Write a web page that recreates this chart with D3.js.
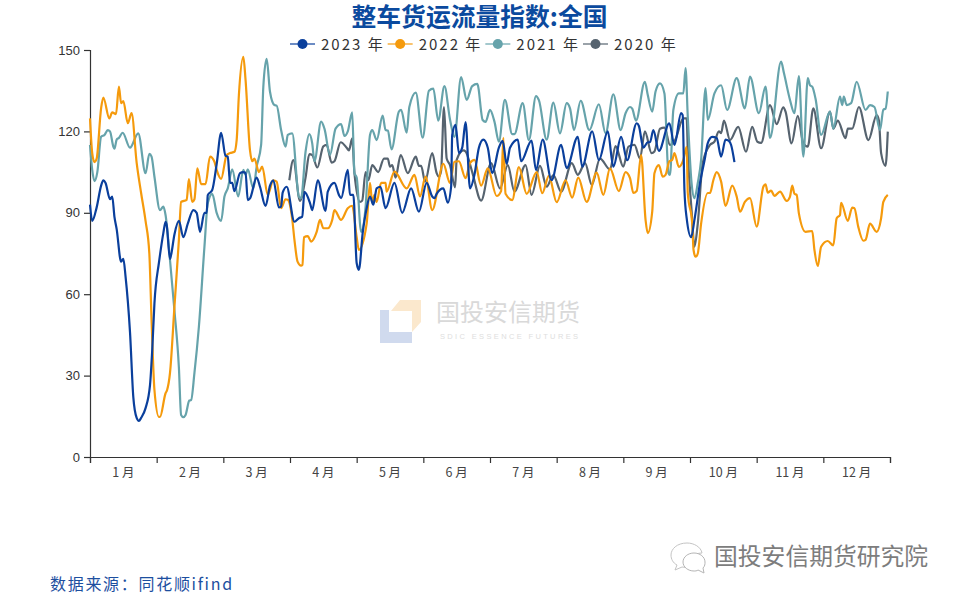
<!DOCTYPE html>
<html>
<head>
<meta charset="utf-8">
<script src="https://cdnjs.cloudflare.com/ajax/libs/d3/7.8.5/d3.min.js"></script>
<style>
html, body { margin: 0; padding: 0; background: #fff; }
svg { display: block; }
</style>
</head>
<body>
<svg id="chart" width="960" height="600"></svg>
<script>
// data: [day of a 360 day year, index]
const months = ['1 月','2 月','3 月','4 月','5 月','6 月','7 月','8 月','9 月','10 月','11 月','12 月'];
const yTicks = [0,30,60,90,120,150];
const years = ['2023 年','2022 年','2021 年','2020 年'];
const colors = ['#0a3f9c','#f59a0c','#66a3ab','#56636f'];

const values2023 = [[0,93],[1,87],[3,92],[5,100],[6,102],[7,101],[9,95],[10,96],[11,88.5],[12,84],[14,72],[15,73],[16,66.5],[18,46],[19.5,22],[21,14.4],[22,13.3],[23,14.4],[25,18],[27,26.5],[28,39.4],[29,56.7],[31,71.5],[31.5,74.5],[33,82.5],[34,86.7],[34.5,85.5],[36,73],[36.5,74.5],[38,82],[40,87],[42,81],[44,86],[46.5,91],[48,90],[49.5,83],[51.5,90],[52.5,90],[53,96.5],[55,98.4],[57,108],[59,119.5],[61,111],[62,110.7],[63,101],[64,101],[65,98],[67.5,104.6],[69,105],[70,104.6],[71,94.7],[72,95.3],[75,103],[76.5,99.6],[79,92.5],[81,100],[82.5,102],[85,92],[86,92.3],[86.7,97.4],[88.5,99.6],[92,86.7],[94,88],[95.5,88.6],[96.5,97.7],[99,93.6],[100,91],[102.5,102],[106,90.7],[107,97.8],[110,101],[112,96.6],[113,95.4],[116,105.8],[117,96.6],[118.5,96.6],[120,71.5],[121,69],[122.7,82.5],[124.5,91.7],[126,96],[127.5,93],[129,99],[130.7,99.6],[133,91.7],[137,101],[140.5,90],[144.5,99],[148,90.4],[151.5,101],[154,96],[155,95.4],[156,97],[159,99],[161,93.7],[162.5,99.6],[163,118.7],[164.5,122.4],[166,112],[167.5,114],[169,123.4],[171,99],[173,104],[175,114],[177,117],[179,114],[181,104.6],[184,114],[185.7,116.5],[187.5,108],[189,114],[192.5,117],[194,109],[198.7,116.6],[200.7,105.8],[203.7,117],[207.7,102],[212,115],[214.5,106.5],[219.5,118],[221.5,107],[226,120],[229,109.4],[233,120],[235.5,107],[239,118],[241.7,109.4],[246,123],[247,122],[249,114],[251,116],[252,116],[253.5,120.5],[256,112.8],[260.7,123],[263,115],[266,126.7],[266.7,126],[267.5,98.4],[268.5,88],[270.5,81],[272,87.4],[274.5,101],[276.7,110],[278,115.7],[280,118],[282,117.6],[284,110.7],[286,117],[287.5,116.5],[288.5,115],[290,108.7]];

const values2022 = [[0,124.8],[1,112],[2,108.7],[3,110],[5,128.6],[6,132.5],[8.7,124.8],[10,127],[11.7,126.4],[13,136.5],[14,130.4],[15,131.2],[17,123],[18.7,126.7],[21,108.4],[23,97.3],[25,87],[26.7,75],[27.7,50.5],[29,24.7],[31,14.8],[31.5,14.8],[34,23.5],[34.7,24.7],[36,31],[38,55.4],[40,80],[41,94],[43.5,94.8],[44.5,102.4],[46,94],[47,95],[48.3,106.4],[50,100.6],[52,100.6],[54,110.7],[56,108.8],[57,105.8],[59,102.5],[61.5,111.3],[63,112],[65,112.5],[66,116.8],[67,133.4],[69,147.5],[70,139],[72,113],[73,109],[74,110],[76,105],[77.5,107],[80,96.6],[82.5,102],[84,101.5],[86,91.7],[88,95],[89,94.8],[91,87.7],[92,80],[93.4,72],[95,70.5],[95.6,70.8],[96.3,81],[98,81.4],[99.5,79.4],[102,83],[103.5,87.4],[105,84.3],[107,84.3],[109,87.4],[110,91],[113,87.4],[116,91.7],[118,92.6],[120,81],[121,76.3],[124.5,86],[126,101],[127,93.6],[128,96.6],[129,94],[131,101],[133,101],[133.5,97.8],[137,105.2],[142.5,99],[146,104],[148.5,96],[151,103.3],[154,91],[159,108],[162,101],[164,108.8],[166,109],[169,102.8],[171,108.3],[173,109.5],[176,100],[179,106.4],[183,96.2],[185,98],[186,117.6],[187,97],[190,94.7],[193,106.8],[196.5,97],[201,105],[203.5,97.2],[206.5,103.6],[210,93.9],[214,102],[217,95.6],[219.7,103],[223.5,94],[228,104.8],[231,96.6],[234,106.4],[238,98],[241,105],[243,102.8],[244.5,97.3],[246,98],[248,111.3],[250,87.4],[251,82.5],[253,90.4],[254,104.6],[256,107.6],[257.7,103.3],[259,104],[260.7,109],[262,109.5],[263,112],[265,106.9],[267,109.5],[268.5,114.3],[269,97.3],[271,86],[271.6,76.3],[272.5,73.8],[273.5,75],[275,86],[278,97.3],[279,97.3],[280.5,102],[282,105],[284,101.5],[286,92.5],[289,100],[291,96],[292.5,90.4],[294.7,94],[297,95.4],[300,84.9],[303,99.6],[304,100.5],[305,97.4],[306.5,98.2],[308,96.2],[310.5,97.8],[313.5,94.4],[315,96],[316,100],[317,97],[318,96.6],[319,89.8],[322,83],[325,83.3],[326,76.3],[327.5,70.4],[329,77.5],[332,79.6],[334.5,78],[336,88],[337.5,89.2],[338,93.7],[341,87],[343,91.9],[344,91.7],[345.7,84.9],[348,79.7],[349,80],[351,86],[354,83],[356,88],[357,94],[359,96.6]];

const values2021 = [[0,115],[1,105.8],[2,101.7],[3.3,105],[5,118],[6.5,118.7],[8,120.5],[9,120],[10.5,114.4],[11,113.6],[12,117],[13,117.6],[14.7,119.5],[18,114],[21.7,119.3],[25,104.6],[26.7,111.7],[27.7,110.7],[29,103.3],[31.5,91],[33,92.3],[34,89.2],[36,72.6],[38,54],[40,33],[41,15.5],[42,14.7],[43,15.5],[44.7,20.8],[45.5,21],[47,31],[49,48],[51.5,77.5],[53,93.5],[55,97],[57,90],[59,87],[60.5,96],[62,99],[64,106],[66.7,96],[69,105.8],[70,104],[71,106],[73.5,99],[75,107],[77,115],[78,136.5],[79.5,146.7],[81,134.6],[83,129.7],[84,129.5],[86,120.5],[88,114.4],[89,118.7],[91,119.3],[94,96],[95,95.4],[97,112.5],[98.7,119],[100,115.6],[101,109],[104,123.6],[105.5,121],[108,111.3],[110.5,121],[113,122.7],[114.5,118.3],[116,120],[118,127],[119,104.6],[120,103],[122,83],[124,92],[126,118.7],[127,120.5],[129,116.8],[131.7,125.8],[133,120.5],[134,120.3],[135.7,113.4],[139,127.3],[140,127.9],[142.5,119.5],[143.7,129],[146.6,134.3],[149.7,117.7],[152.5,135],[154.5,135.8],[156.7,124],[159.5,136.7],[162,124.4],[164,118],[167,140],[169.5,131.6],[172,136.7],[174.3,137.5],[176.7,124.2],[178,123.5],[180,127.9],[182,123.6],[184,116.2],[186.7,131.6],[190,119],[191,119],[194.7,130.4],[197.5,116.8],[200.7,133],[202,131.5],[205.5,117],[208.5,130.6],[211.5,119.3],[214.5,130.4],[216,128.5],[217.8,120.5],[220.8,131.3],[224.7,120.5],[229,130],[232,119.3],[235.5,133.7],[238.8,120.5],[241,126.7],[243,129],[244,128.4],[245.7,124],[249.7,138.3],[251,133.4],[253,127.3],[254.5,134.7],[256.5,137.7],[258.5,134],[260.3,104.6],[261,104],[262.5,127.9],[265,134],[267,134],[268,143.3],[269,125.4],[270.7,101],[272,95.4],[273.5,101],[275,109.5],[277,136],[278,124.2],[281,134],[284,137],[286.7,127.9],[291,139.6],[294.7,128.5],[297,140.2],[301,126.7],[304,136.5],[306,117.6],[311,145.7],[312.3,141.4],[315,131.6],[317,126.7],[319,140.4],[321,110.7],[323,139.6],[324,137],[325,136.5],[326.5,132],[329,118.7],[333,127.3],[334.5,121],[337.5,132.8],[338.5,129.7],[339.2,132.8],[340.5,129.7],[342.5,130.4],[345,138.3],[349,127.9],[351,129.7],[353,129],[355.5,120.5],[357,128],[358,128.4],[359,134.7]];

const values2020 = [[89.7,102],[91.5,109.4],[94.5,94.4],[97,103],[98.7,111.6],[100,111.3],[102.3,106.7],[105,114.5],[106.5,115],[108.7,108.5],[110,109],[112.8,116],[115.5,114],[116.5,113],[118,117.4],[119,104.6],[121.5,94],[122.5,94.5],[124,105],[125.3,102],[127,107.6],[129.7,105],[132.3,110],[134,110],[135,107],[136,107.6],[137.5,103],[139.8,111.3],[143,104.6],[146.6,110.7],[148,107.3],[149,107.3],[150.8,101.5],[154,112],[156,104.6],[157,103.3],[158,105.5],[159.3,129],[160.5,110],[162,107.6],[164.3,99.4],[165,109.5],[168,113],[169,112.6],[172,105],[176,94.5],[180.5,108.3],[184.5,99],[188,107.6],[191,97.8],[196,107.6],[198.7,96.6],[202.5,107.3],[205.5,99.6],[208.5,103.9],[212,97.8],[216.8,108.3],[219.5,104],[222.8,108.3],[225.8,100.3],[229.5,110],[234,106],[236.5,114.6],[240,107],[242.3,114.4],[245,115],[247.5,110],[249.7,120],[252.7,112],[254,112.6],[256.5,121],[258.5,121.4],[261,115],[263.3,116.8],[267,124.8],[268.5,124.8],[269,113],[270.7,91],[272,77.5],[273.5,86],[275.7,108.3],[279,115],[281,116.2],[283,120],[284,119.4],[285.3,124],[288,116.8],[291.7,121.7],[295.2,112.5],[298,121.7],[300.3,116.2],[302,115.8],[306,129.7],[309,122.7],[312,128.9],[313,127.3],[315.7,115.6],[318.5,125.7],[321,115.6],[323,114.4],[325.5,128.5],[329,113.8],[333,127.3],[334.5,121],[336.5,124],[340,117.5],[341,121],[343,121],[346,129],[350.3,116.8],[354,126],[355,124],[356,112],[358,107.3],[359,119.9]];

const seriesValues = [values2023, values2022, values2021, values2020];

const svg = d3.select('#chart');
const cjk = '"Noto Sans CJK SC", "Noto Sans", sans-serif';
const latin = '"Liberation Sans", Arial, sans-serif';

const x = d3.scaleLinear().domain([0, 360]).range([90, 890]);
const y = d3.scaleLinear().domain([0, 150]).range([457, 50]);

// watermark behind the lines
const mark = svg.append('g');
mark.append('path').attr('d', 'M380,310H389V332H412V343H380Z').attr('fill', '#d0daee');
mark.append('path').attr('d', 'M400,300H421V322L412,332V311H391Z').attr('fill', '#fbe8cd');
mark.append('text').attr('x', 436).attr('y', 321).attr('fill', '#d9d9d9')
	.style('font', '24px ' + cjk).text('国投安信期货');
mark.append('text').attr('x', 440).attr('y', 339).attr('fill', '#dedede')
	.style('font', '7.5px ' + latin).style('letter-spacing', '2.35px').text('SDIC ESSENCE FUTURES');

// axes
const yAxis = svg.append('g').attr('transform', 'translate(90,0)')
	.call(d3.axisLeft(y).tickValues(yTicks).tickSize(6).tickPadding(4));
const xAxis = svg.append('g').attr('transform', 'translate(0,457)')
	.call(d3.axisBottom(x).tickValues(d3.range(0, 361, 30)).tickSize(6).tickFormat(''));

[yAxis, xAxis].forEach(a => {
	a.select('.domain').attr('stroke', '#333').attr('stroke-width', 1.2);
	a.selectAll('.tick line').attr('stroke', '#333').attr('stroke-width', 1.2);
});
yAxis.selectAll('text').attr('fill', '#333').style('font', '13px ' + latin);

svg.append('g').selectAll('text')
	.data(months)
	.join('text')
	.attr('x', (d, i) => x(i * 30 + 15))
	.attr('y', 477)
	.attr('text-anchor', 'middle')
	.attr('fill', '#444')
	.style('font', '12.5px ' + cjk)
	.text(d => d);

// lines, oldest year at the bottom
const line = d3.line().x(d => x(d[0])).y(d => y(d[1])).curve(d3.curveMonotoneX);

svg.append('g').selectAll('path')
	.data(seriesValues.map((v, i) => ({ v, i })).reverse())
	.join('path')
	.attr('d', d => line(d.v))
	.attr('fill', 'none')
	.attr('stroke', d => colors[d.i])
	.attr('stroke-width', 2.2)
	.attr('stroke-linejoin', 'round');

// title and legend
svg.append('text').attr('x', 479.5).attr('y', 26).attr('text-anchor', 'middle')
	.attr('fill', '#0b4a9e').style('font', 'bold 24.8px ' + cjk).text('整车货运流量指数:全国');

const legendX = d3.scaleLinear().domain([0, 3]).range([290, 583]);
const legend = svg.append('g').selectAll('g')
	.data(years)
	.join('g')
	.attr('transform', (d, i) => `translate(${legendX(i)},44)`);
legend.append('line').attr('x2', 25).attr('stroke', (d, i) => colors[i]).attr('stroke-width', 1.2);
legend.append('circle').attr('cx', 12.5).attr('r', 5).attr('fill', (d, i) => colors[i]);
legend.append('text').attr('x', 31).attr('y', 5.5).attr('fill', '#333')
	.style('font', '15px ' + cjk).style('letter-spacing', '2px').text(d => d);

// source and signature
svg.append('text').attr('x', 50).attr('y', 590).attr('fill', '#1d4f9f')
	.style('font', '16px ' + cjk).style('letter-spacing', '1.7px').text('数据来源：同花顺ifind');

const sign = svg.append('g');
sign.append('path')
	.attr('d', 'M677,565l-2,5l7,-3c5,1 9,0 11,-1c-4,-6 0,-13 9,-13c-1,-6 -8,-10 -15,-10c-10,0 -16,6 -16,12c0,4 2,8 6,10Z')
	.attr('fill', '#fff').attr('stroke', '#c4c4c4').attr('stroke-width', 1);
sign.append('path')
	.attr('d', 'M698,570l6,3l-1,-5c2,-2 2,-4 2,-6c0,-5 -5,-9 -11,-9c-6,0 -11,4 -11,9c0,5 5,9 11,9c1,0 3,0 4,-1Z')
	.attr('fill', '#fff').attr('stroke', '#b5b5b5').attr('stroke-width', 1);
sign.append('text').attr('x', 714).attr('y', 565).attr('fill', '#7d7d7d')
	.style('font', '23.8px ' + cjk).text('国投安信期货研究院');
</script>
</body>
</html>
